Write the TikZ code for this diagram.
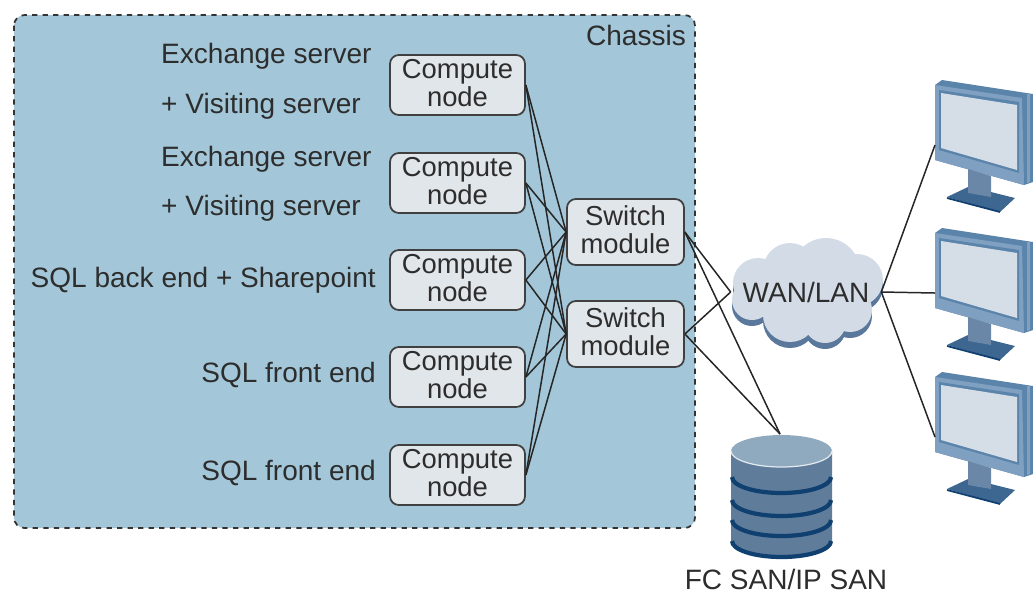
\documentclass[tikz,border=0pt]{standalone}
\usepackage{fontspec}
\setmainfont{Liberation Sans}
\definecolor{chassisblue}{RGB}{163,199,217}
\definecolor{boxgray}{RGB}{225,230,234}
\definecolor{textgray}{RGB}{45,45,45}
\definecolor{cloudgray}{RGB}{211,220,230}
\definecolor{cloudshade}{RGB}{90,120,155}
\definecolor{bezel}{RGB}{128,160,194}
\definecolor{bezeldark}{RGB}{91,132,171}
\definecolor{screengray}{RGB}{213,222,231}
\definecolor{neckblue}{RGB}{106,135,168}
\definecolor{baseblue}{RGB}{61,102,144}
\definecolor{dbside}{RGB}{95,124,155}
\definecolor{dbtop}{RGB}{143,169,191}
\definecolor{dbband}{RGB}{15,64,112}
\tikzset{
  every node/.style={font=\fontsize{15.95}{15.9}\selectfont,text=textgray},
  box/.style={draw=black!75,fill=boxgray,rounded corners=5pt,line width=1pt,align=center,inner sep=0pt,font=\fontsize{15.6}{15.9}\selectfont},
  computebox/.style={box,minimum width=2.7cm,minimum height=1.2cm,text depth=2.3pt},
  switchbox/.style={box,minimum width=2.34cm,minimum height=1.32cm,text depth=3.2pt},
  link/.style={black!85,line width=0.85pt},
  monitor/.pic={
    \fill[bezeldark] (7,-5) -- (98,9) -- (98,97) -- (89,100) -- (0,75) -- (0,0) -- cycle;
    \fill[bezel] (92,9) -- (95,9) -- (95,97) -- (92,98) -- cycle;
    \fill[bezel] (0,0) -- (87,13) -- (89,100) -- (0,75) -- cycle;
    \fill[bezeldark] (4,5) -- (84,17) -- (84,88) -- (4,65) -- cycle;
    \fill[screengray] (6,8) -- (82,20) -- (82,85) -- (6,63) -- cycle;
    \fill[baseblue] (12,112) -- (33,102) -- (56,107) -- (80,113) -- (65,127) -- cycle;
    \draw[dbband,line width=1pt] (12,113) -- (65,127);
    \fill[neckblue] (33,84) -- (56,91) -- (56,112) -- (33,108) -- cycle;
    \coordinate (-port) at (0,60);
  },
  puffs/.pic={
    \foreach \cx/\cy/\r in {758/283/25,790/270/27,826/272/34,857/280/26,850/310/22,825/322/21,790/315/27,752/300/20,805/295/40}
          \fill (\cx,\cy) circle[radius=\r];
  }
}
\begin{document}
\begin{tikzpicture}[x=0.02cm,y=-0.02cm]
      \useasboundingbox (0,0) rectangle (1033,593);
      \draw[fill=chassisblue,draw=black!80,dashed,rounded corners=6pt,line width=1pt] (14,15) rectangle (695,528);
      \node[anchor=east] (chassis) at (692,35) {Chassis};
      \node[anchor=west] (ex1) at (155,56) {Exchange server};
      \node[anchor=west] (vis1) at (155,106) {+ Visiting server};
      \node[anchor=west] (ex2) at (155,159) {Exchange server};
      \node[anchor=west] (vis2) at (155,208) {+ Visiting server};
      \node[anchor=east] (sql1) at (382,280) {SQL back end + Sharepoint};
      \node[anchor=east] (sql2) at (382,375) {SQL front end};
      \node[anchor=east] (sql3) at (382,473) {SQL front end};
      \foreach \n/\y in {1/85,2/183,3/280,4/377,5/475}
            \node[computebox] (c\n) at (457.5,\y) {Compute\\node};
      \node[switchbox] (sw1) at (625.5,232) {Switch\\module};
      \node[switchbox] (sw2) at (625.5,334) {Switch\\module};
      \foreach \n in {1,...,5}
            \foreach \s in {1,2}
                  \draw[link] (c\n.east) -- (sw\s.west);
      \pic[cloudshade] at (0,6) {puffs};
      \pic[cloudgray] at (0,0) {puffs};
      \node[minimum width=3cm,inner sep=0pt] (wan) at (806,292) {WAN/LAN};
      \fill[dbside] (731,451) -- (731,541) arc[start angle=180,end angle=360,x radius=50.5,y radius=-16] -- (832,451) -- cycle;
      \foreach \y in {477,500,520,541}
            \draw[dbband,line width=2.4pt] (732,\y) arc[start angle=180,end angle=360,x radius=49.5,y radius=-16];
      \draw[fill=dbtop,draw=none] (781.5,451) ellipse[x radius=50.5,y radius=16];
      \draw[white!75!dbtop,line width=0.7pt] (731,451) arc[start angle=180,end angle=360,x radius=50.5,y radius=-16];
      \coordinate (san) at (780,434);
      \node[inner sep=0pt] (sanlabel) at (786,579) {FC SAN/IP SAN};
      \pic (pc1) at (935,85) {monitor};
      \pic (pc2) at (935,233) {monitor};
      \pic (pc3) at (935,377) {monitor};
      \draw[link] (sw1.east) -- (wan.west);
      \draw[link] (sw2.east) -- (wan.west);
      \draw[link] (sw1.east) -- (san);
      \draw[link] (sw2.east) -- (san);
      \draw[link] (wan.east) -- (pc1-port);
      \draw[link] (wan.east) -- (pc2-port);
      \draw[link] (wan.east) -- (pc3-port);
\end{tikzpicture}
\end{document}
